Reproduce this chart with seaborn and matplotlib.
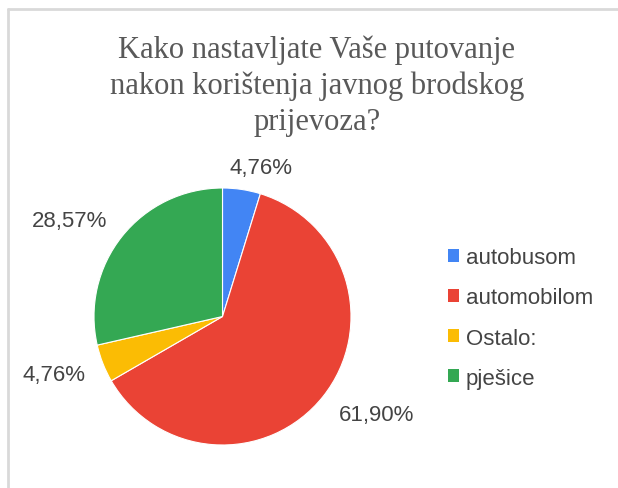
import matplotlib
matplotlib.use("Agg")
import matplotlib.pyplot as plt
import seaborn as sns
import numpy as np
from matplotlib.lines import Line2D
from matplotlib.patches import Patch

categories = ["autobusom", "automobilom", "Ostalo:", "pješice"]
values = [4.76, 61.90, 4.76, 28.57]
pct_labels = ["4,76%", "61,90%", "4,76%", "28,57%"]
colors = ["#4285F4", "#EA4335", "#FBBC04", "#34A853"]
title = "Kako nastavljate Vaše putovanje\nnakon korištenja javnog brodskog\nprijevoza?"

sns.set_theme(style="white")
plt.rcParams["font.family"] = ["Liberation Sans", "DejaVu Sans"]

W, H = 618, 489
fig = plt.figure(figsize=(W / 100, H / 100), dpi=100)
fig.patch.set_facecolor("white")

R = 128.5
cx, cy = 222.5, 317.5
L = 1.5
side = 2 * L * R
ax = fig.add_axes([(cx - side / 2) / W, (H - cy - side / 2) / H, side / W, side / H])
wedges, _ = ax.pie(values, colors=colors, startangle=90, counterclock=False,
                   wedgeprops=dict(linewidth=0.8, edgecolor="white"))
ax.set_xlim(-L, L)
ax.set_ylim(-L, L)
ax.set_aspect("equal")
ax.axis("off")

label_dist = [1.20, 1.42, 1.39, 1.40]
label_shift = [-6, 6, -2.5, 6.5]
for w, txt, d, s in zip(wedges, pct_labels, label_dist, label_shift):
    ang = np.deg2rad((w.theta1 + w.theta2) / 2 + s)
    ax.text(d * np.cos(ang), d * np.sin(ang), txt, ha="center", va="center",
            fontsize=16, color="#444444", clip_on=False)

fig.text(317 / W, 1 - 86 / H, title, ha="center", va="center",
         family=["Liberation Serif", "DejaVu Serif"], fontsize=22,
         color="#595959", linespacing=1.3)

handles = [Patch(facecolor=c, edgecolor="none") for c in colors]
fig.legend(handles, categories, loc="center left",
           bbox_to_anchor=(448 / W, 1 - 319 / H), frameon=False, fontsize=16,
           handlelength=0.5, handleheight=0.5, handletextpad=0.3,
           labelspacing=0.86, borderpad=0, borderaxespad=0, labelcolor="#444444")

# light frame lines (top and left)
fig.add_artist(Line2D([8 / W, 1], [1 - 10 / H, 1 - 10 / H], color="#d9d9d9", linewidth=2))
fig.add_artist(Line2D([8 / W, 8 / W], [0, 1 - 10 / H], color="#d9d9d9", linewidth=2))

fig.savefig("out.png", dpi=100)
